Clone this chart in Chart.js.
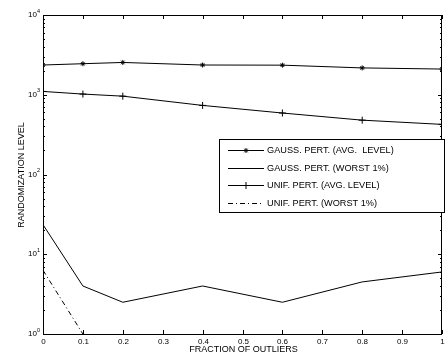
<!DOCTYPE html>
<html>
<head>
<meta charset="utf-8">
<script src="https://cdn.jsdelivr.net/npm/chart.js@4"></script>
<style>
  html, body { margin: 0; padding: 0; background: #fff; }
  #wrap { width: 447px; height: 356px; }
</style>
</head>
<body>
<div id="wrap"><canvas id="chart" width="447" height="356"></canvas></div>
<script>
// values
const fractions = [0, 0.1, 0.2, 0.4, 0.6, 0.8, 1];
const gaussAvg = [2360, 2450, 2540, 2360, 2350, 2170, 2100];
const gaussWorst = [23.5, 4.0, 2.5, 4.0, 2.5, 4.5, 6.0];
const unifAvg = [1100, 1020, 960, 735, 590, 480, 425];
const unifWorstX = [0, 0.1];
const unifWorst = [6.3, 1.0];
const seriesNames = [
    'GAUSS. PERT. (AVG.  LEVEL)',
    'GAUSS. PERT. (WORST 1%)',
    'UNIF. PERT. (AVG. LEVEL)',
    'UNIF. PERT. (WORST 1%)'
];
const xTicks = [0, 0.1, 0.2, 0.3, 0.4, 0.5, 0.6, 0.7, 0.8, 0.9, 1];
const xTickLabels = ['0', '0.1', '0.2', '0.3', '0.4', '0.5', '0.6', '0.7', '0.8', '0.9', '1'];
const yDecades = [0, 1, 2, 3, 4];

const FONT = '"Liberation Sans", Arial, Helvetica, sans-serif';

function toPoints(xs, ys) {
    return ys.map((v, i) => ({ x: xs[i], y: v }));
}

const matlabAxes = {
    id: 'matlabAxes',
    afterDraw(chart) {
        const ctx = chart.ctx;
        const area = chart.chartArea;
        const xs = chart.scales.x;
        const ys = chart.scales.y;
        ctx.save();
        ctx.strokeStyle = '#000';
        ctx.fillStyle = '#000';
        ctx.lineWidth = 1;

        // frame
        ctx.strokeRect(Math.round(area.left) + 0.5, Math.round(area.top) + 0.5,
            Math.round(area.right - area.left) - 1, Math.round(area.bottom - area.top));

        // x ticks (inside, top and bottom) and labels
        ctx.font = '8px ' + FONT;
        ctx.textAlign = 'center';
        ctx.textBaseline = 'middle';
        xTicks.forEach((v, i) => {
            const px = Math.round(xs.getPixelForValue(v)) + 0.5;
            ctx.beginPath();
            ctx.moveTo(px, area.bottom);
            ctx.lineTo(px, area.bottom - 4);
            ctx.moveTo(px, area.top);
            ctx.lineTo(px, area.top + 4);
            ctx.stroke();
            ctx.fillText(xTickLabels[i], px, area.bottom + 8);
        });

        // y ticks (log, major + minor) and labels
        yDecades.forEach(d => {
            for (let m = 1; m <= 9; m++) {
                if (d === 4 && m > 1) break;
                const py = Math.round(ys.getPixelForValue(m * Math.pow(10, d))) + 0.5;
                const len = m === 1 ? 4 : 2;
                ctx.beginPath();
                ctx.moveTo(area.left, py);
                ctx.lineTo(area.left + len, py);
                ctx.moveTo(area.right, py);
                ctx.lineTo(area.right - len, py);
                ctx.stroke();
            }
            const py = ys.getPixelForValue(Math.pow(10, d));
            ctx.textAlign = 'right';
            ctx.textBaseline = 'middle';
            ctx.font = '8px ' + FONT;
            ctx.fillText('10', area.left - 6, py);
            ctx.textAlign = 'left';
            ctx.font = '5.5px ' + FONT;
            ctx.fillText(String(d), area.left - 6, py - 4);
        });

        // axis titles
        ctx.font = '9px ' + FONT;
        ctx.textAlign = 'center';
        ctx.textBaseline = 'middle';
        ctx.fillText('FRACTION OF OUTLIERS', (area.left + area.right) / 2 + 1, 350);
        ctx.save();
        ctx.translate(22, 175);
        ctx.rotate(-Math.PI / 2);
        ctx.fillText('RANDOMIZATION LEVEL', 0, 0);
        ctx.restore();

        // legend box
        const bx = 219.5, by = 139.5, bw = 225, bh = 73;
        ctx.fillStyle = '#fff';
        ctx.fillRect(bx, by, bw, bh);
        ctx.strokeRect(bx, by, bw, bh);
        ctx.fillStyle = '#000';
        ctx.font = '9.2px ' + FONT;
        ctx.textAlign = 'left';
        chart.data.datasets.forEach((ds, i) => {
            const ly = Math.round(150 + i * 17.6) + 0.5;
            ctx.save();
            ctx.setLineDash(ds.borderDash || []);
            ctx.beginPath();
            ctx.moveTo(228, ly);
            ctx.lineTo(264, ly);
            ctx.stroke();
            ctx.restore();
            if (ds.pointRadius > 0) {
                Chart.helpers.drawPoint(ctx, {
                    pointStyle: ds.pointStyle,
                    radius: ds.pointRadius,
                    borderWidth: 1,
                    rotation: 0
                }, 246, ly);
            }
            ctx.fillText(ds.label, 267, ly);
        });
        ctx.restore();
    }
};

new Chart(document.getElementById('chart'), {
    type: 'line',
    data: {
        datasets: [
            {
                label: seriesNames[0],
                data: toPoints(fractions, gaussAvg),
                borderColor: '#000',
                backgroundColor: '#000',
                borderWidth: 1,
                pointStyle: 'star',
                pointRadius: 2.5,
                pointBorderWidth: 1
            },
            {
                label: seriesNames[1],
                data: toPoints(fractions, gaussWorst),
                borderColor: '#000',
                borderWidth: 1,
                pointRadius: 0
            },
            {
                label: seriesNames[2],
                data: toPoints(fractions, unifAvg),
                borderColor: '#000',
                backgroundColor: '#000',
                borderWidth: 1,
                pointStyle: 'cross',
                pointRadius: 3.5,
                pointBorderWidth: 1
            },
            {
                label: seriesNames[3],
                data: toPoints(unifWorstX, unifWorst),
                borderColor: '#000',
                borderWidth: 1,
                borderDash: [5, 3, 1, 3],
                pointRadius: 0
            }
        ]
    },
    options: {
        responsive: false,
        animation: false,
        devicePixelRatio: 1,
        layout: { padding: { left: 43, top: 15, right: 1, bottom: 22 } },
        plugins: {
            legend: { display: false },
            tooltip: { enabled: false }
        },
        elements: { line: { tension: 0 } },
        scales: {
            x: { type: 'linear', min: 0, max: 1, display: false },
            y: { type: 'logarithmic', min: 1, max: 10000, display: false }
        }
    },
    plugins: [matlabAxes]
});
</script>
</body>
</html>
